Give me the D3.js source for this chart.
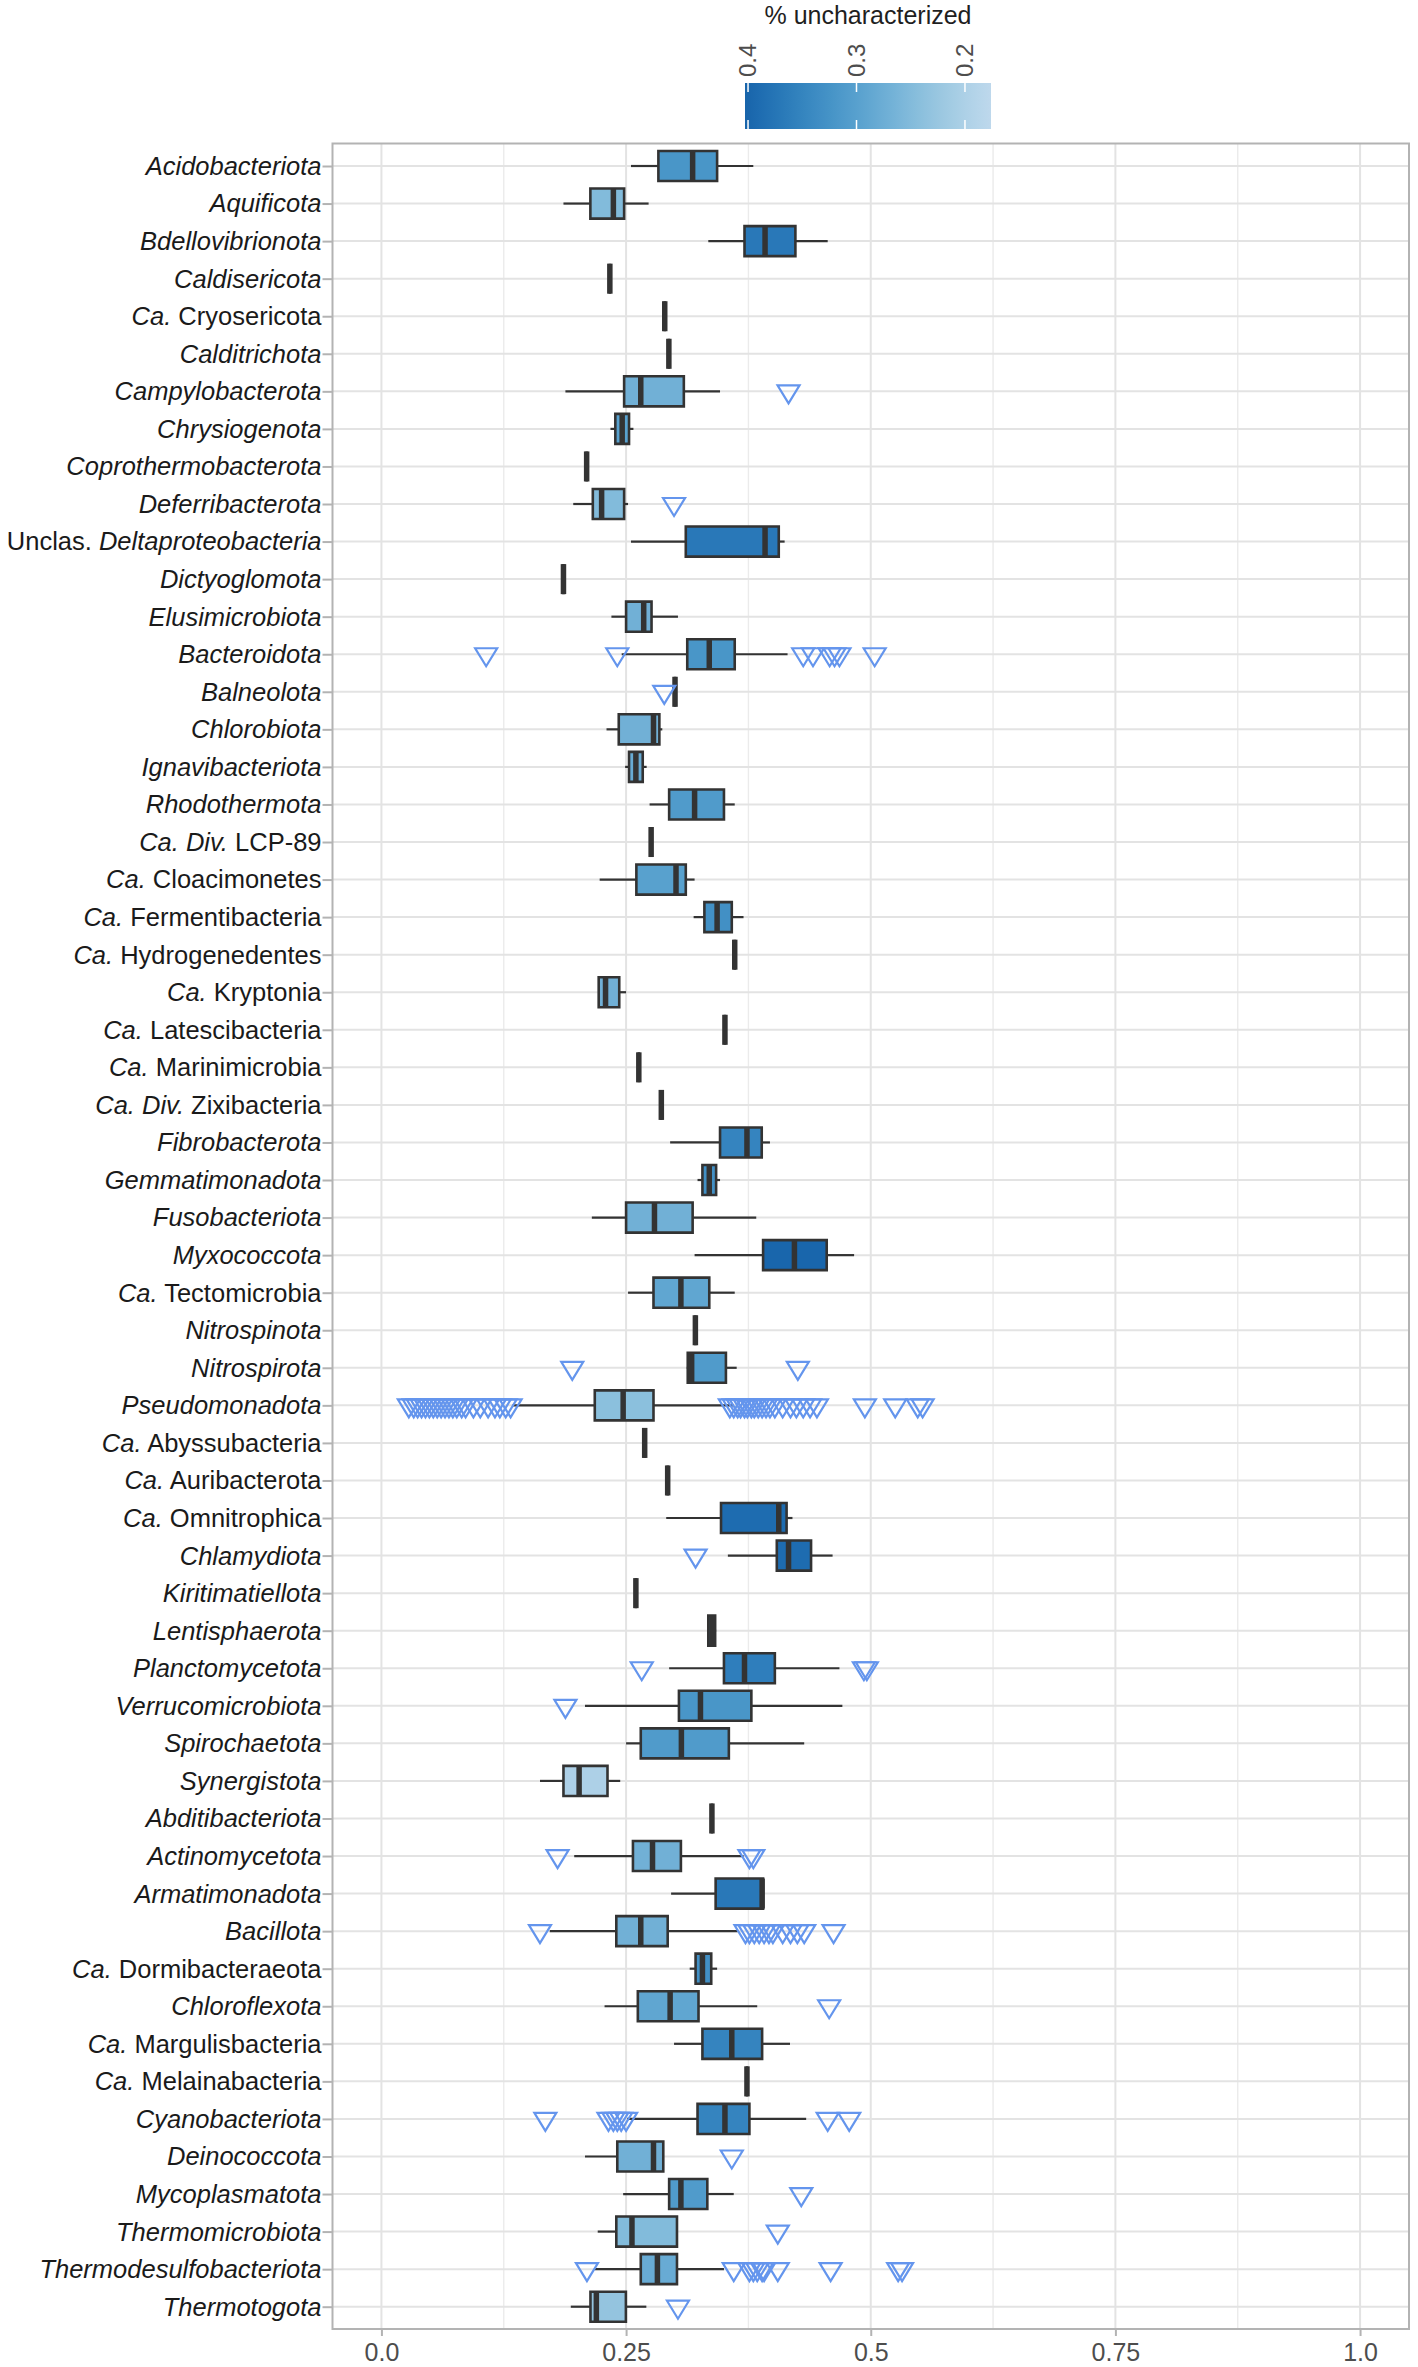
<!DOCTYPE html>
<html>
<head>
<meta charset="utf-8">
<script src="https://cdn.jsdelivr.net/npm/d3@7"></script>
<style>
html,body{margin:0;padding:0;background:#fff;}
svg{display:block;font-family:"Liberation Sans",Arial,Helvetica,sans-serif;}
</style>
</head>
<body>
<svg id="chart" width="1418" height="2367"></svg>
<script>
const categories = [
"Acidobacteriota","Aquificota","Bdellovibrionota","Caldisericota","Ca. Cryosericota","Calditrichota",
"Campylobacterota","Chrysiogenota","Coprothermobacterota","Deferribacterota","Unclas. Deltaproteobacteria",
"Dictyoglomota","Elusimicrobiota","Bacteroidota","Balneolota","Chlorobiota","Ignavibacteriota","Rhodothermota",
"Ca. Div. LCP-89","Ca. Cloacimonetes","Ca. Fermentibacteria","Ca. Hydrogenedentes","Ca. Kryptonia",
"Ca. Latescibacteria","Ca. Marinimicrobia","Ca. Div. Zixibacteria","Fibrobacterota","Gemmatimonadota",
"Fusobacteriota","Myxococcota","Ca. Tectomicrobia","Nitrospinota","Nitrospirota","Pseudomonadota",
"Ca. Abyssubacteria","Ca. Auribacterota","Ca. Omnitrophica","Chlamydiota","Kiritimatiellota","Lentisphaerota",
"Planctomycetota","Verrucomicrobiota","Spirochaetota","Synergistota","Abditibacteriota","Actinomycetota",
"Armatimonadota","Bacillota","Ca. Dormibacteraeota","Chloroflexota","Ca. Margulisbacteria","Ca. Melainabacteria",
"Cyanobacteriota","Deinococcota","Mycoplasmatota","Thermomicrobiota","Thermodesulfobacteriota","Thermotogota"
];

const whiskerLow = [0.255,0.186,0.334,0.2334,0.2895,0.2937,0.188,0.234,0.2097,0.196,0.255,0.186,0.235,0.2455,0.300,0.230,0.249,0.274,0.2756,0.223,0.319,0.361,0.222,0.351,0.263,0.286,0.295,0.323,0.215,0.320,0.252,0.3208,0.312,0.134,0.269,0.2925,0.291,0.354,0.260,0.333,0.294,0.208,0.250,0.162,0.3377,0.197,0.296,0.172,0.315,0.228,0.299,0.3735,0.251,0.208,0.247,0.221,0.218,0.1935];
const q1 = [0.283,0.2135,0.371,0.2334,0.2895,0.2937,0.248,0.239,0.2097,0.216,0.311,0.186,0.250,0.3125,0.300,0.2425,0.253,0.294,0.2756,0.2605,0.330,0.361,0.222,0.351,0.263,0.286,0.346,0.328,0.250,0.390,0.278,0.3208,0.313,0.218,0.269,0.2925,0.347,0.404,0.260,0.334,0.350,0.304,0.265,0.186,0.3377,0.257,0.3415,0.240,0.321,0.262,0.328,0.3735,0.323,0.241,0.294,0.240,0.265,0.2136];
const median = [0.318,0.237,0.392,0.2334,0.2895,0.2937,0.265,0.246,0.2097,0.225,0.392,0.186,0.268,0.335,0.300,0.278,0.260,0.320,0.2756,0.301,0.343,0.361,0.229,0.351,0.263,0.286,0.3735,0.335,0.279,0.422,0.306,0.3208,0.317,0.247,0.269,0.2925,0.406,0.416,0.260,0.3377,0.371,0.326,0.3065,0.202,0.3377,0.277,0.389,0.265,0.328,0.295,0.358,0.3735,0.351,0.278,0.306,0.256,0.282,0.2196];
const q3 = [0.343,0.248,0.423,0.2334,0.2895,0.2937,0.309,0.253,0.2097,0.248,0.406,0.186,0.276,0.361,0.300,0.284,0.267,0.350,0.2756,0.311,0.358,0.361,0.243,0.351,0.263,0.286,0.3886,0.342,0.318,0.455,0.335,0.3208,0.352,0.278,0.269,0.2925,0.414,0.439,0.260,0.341,0.402,0.378,0.355,0.231,0.3377,0.306,0.390,0.2925,0.337,0.324,0.389,0.3735,0.376,0.288,0.333,0.302,0.302,0.2498];
const whiskerHigh = [0.380,0.273,0.456,0.2334,0.2895,0.2937,0.346,0.2575,0.2097,0.252,0.412,0.186,0.303,0.415,0.300,0.287,0.271,0.361,0.2756,0.320,0.370,0.361,0.250,0.351,0.263,0.286,0.397,0.346,0.383,0.483,0.361,0.3208,0.363,0.360,0.269,0.2925,0.420,0.461,0.260,0.342,0.468,0.471,0.432,0.244,0.3377,0.370,0.390,0.364,0.343,0.384,0.4175,0.3735,0.434,0.288,0.360,0.302,0.350,0.2707];

// % uncharacterized (fill)
const uncharacterized = [0.32,0.25,0.37,0.30,0.30,0.30,0.27,0.30,0.30,0.25,0.37,0.30,0.27,0.32,0.30,0.27,0.28,0.31,0.30,0.30,0.33,0.30,0.27,0.30,0.30,0.30,0.35,0.33,0.27,0.40,0.29,0.30,0.31,0.24,0.30,0.30,0.39,0.39,0.30,0.33,0.36,0.32,0.31,0.20,0.30,0.27,0.37,0.27,0.33,0.29,0.35,0.30,0.35,0.27,0.31,0.25,0.28,0.23];

const outliers = [
[],[],[],[],[],[],
[0.416],[],[],[0.299],[],
[],[],[0.107,0.241,0.431,0.441,0.458,0.463,0.468,0.504],[0.289],[],[],[],
[],[],[],[],[],
[],[],[],[],[],
[],[],[],[],[0.195,0.4255],
[0.028,0.033,0.037,0.041,0.045,0.049,0.053,0.057,0.061,0.065,0.069,0.073,0.077,0.082,0.086,0.094,0.101,0.109,0.116,0.121,0.127,0.132,
 0.356,0.360,0.364,0.367,0.371,0.374,0.378,0.381,0.385,0.389,0.393,0.397,0.402,0.410,0.418,0.424,0.431,0.438,0.445,0.494,0.525,0.548,0.553],
[],[],[],[0.321],[],[],
[0.266,0.493,0.496],[0.188],[],[],[],[0.180,0.376,0.380],
[],[0.162,0.372,0.376,0.381,0.386,0.391,0.396,0.400,0.410,0.418,0.425,0.432,0.462],[],[0.4575],[],[],
[0.1675,0.232,0.237,0.241,0.245,0.250,0.456,0.478],[0.358],[0.429],[0.405],
[0.210,0.360,0.376,0.380,0.384,0.389,0.391,0.405,0.459,0.528,0.532],[0.303]
];

const xTicks = [0, 0.25, 0.5, 0.75, 1.0];
const xTickLabels = ["0.0","0.25","0.5","0.75","1.0"];
const xMinorTicks = [0.125, 0.375, 0.625, 0.875];
const legendTicks = [0.4, 0.3, 0.2];
const legendTickLabels = ["0.4","0.3","0.2"];
const legendTitle = "% uncharacterized";
const legendRange = [0.4028, 0.176];

const svg = d3.select("#chart");
const panel = {left: 332.5, right: 1409, top: 143.5, bottom: 2329};

const x = d3.scaleLinear().domain([-0.05, 1.05]).range([panel.left, panel.right]);
const y = d3.scalePoint().domain(categories).range([166, 2306.7]);
const step = y.step();
const boxH = step * 0.8;

const fillOf = v => d3.interpolateBlues(0.27 + (Math.max(0.176, Math.min(0.4028, v)) - 0.176) / (0.4028 - 0.176) * 0.53);

// panel grid
const g = svg.append("g");
g.selectAll(".minor").data(xMinorTicks).join("line")
  .attr("x1", d => x(d)).attr("x2", d => x(d))
  .attr("y1", panel.top).attr("y2", panel.bottom)
  .attr("stroke", "#ebebeb").attr("stroke-width", 1.4);
g.selectAll(".major").data(xTicks).join("line")
  .attr("x1", d => x(d)).attr("x2", d => x(d))
  .attr("y1", panel.top).attr("y2", panel.bottom)
  .attr("stroke", "#e3e3e3").attr("stroke-width", 2);
g.selectAll(".hgrid").data(categories).join("line")
  .attr("x1", panel.left).attr("x2", panel.right)
  .attr("y1", d => y(d)).attr("y2", d => y(d))
  .attr("stroke", "#e3e3e3").attr("stroke-width", 2);

// boxes
const rows = categories.map((c, i) => ({
  c, lo: whiskerLow[i], q1: q1[i], med: median[i], q3: q3[i], hi: whiskerHigh[i],
  fill: uncharacterized[i], out: outliers[i]
}));

const bg = svg.append("g");
rows.forEach(r => {
  const cy = y(r.c);
  const gg = bg.append("g");
  gg.append("line").attr("x1", x(r.lo)).attr("x2", x(r.q1)).attr("y1", cy).attr("y2", cy)
    .attr("stroke", "#333").attr("stroke-width", 2.2);
  gg.append("line").attr("x1", x(r.q3)).attr("x2", x(r.hi)).attr("y1", cy).attr("y2", cy)
    .attr("stroke", "#333").attr("stroke-width", 2.2);
  const x1 = x(r.q1), x2 = x(r.q3), y1 = cy - boxH / 2, y2 = cy + boxH / 2;
  gg.append("path").attr("d", `M${x1},${y1}H${x2}V${y2}H${x1}Z`)
    .attr("fill", fillOf(r.fill)).attr("stroke", "#333").attr("stroke-width", 2.6)
    .attr("stroke-linejoin", "miter");
  gg.append("line").attr("x1", x(r.med)).attr("x2", x(r.med)).attr("y1", y1).attr("y2", y2)
    .attr("stroke", "#333").attr("stroke-width", 5.5);
});

// outliers (open down-triangles)
const tri = (cx, cy) => {
  const w = 22, h = 18;
  return `M${cx - w/2},${cy - h/3}L${cx + w/2},${cy - h/3}L${cx},${cy + 2*h/3}Z`;
};
const og = svg.append("g");
rows.forEach(r => {
  og.selectAll(null).data(r.out).join("path")
    .attr("d", d => tri(x(d), y(r.c)))
    .attr("fill", "none").attr("stroke", "#6495ed").attr("stroke-width", 2.2)
    .attr("stroke-linejoin", "miter");
});

// panel border
svg.append("rect").attr("x", panel.left).attr("y", panel.top)
  .attr("width", panel.right - panel.left).attr("height", panel.bottom - panel.top)
  .attr("fill", "none").attr("stroke", "#b3b3b3").attr("stroke-width", 2);

// x axis
const xAxis = svg.append("g").attr("transform", `translate(0,${panel.bottom})`)
  .call(d3.axisBottom(x).tickValues(xTicks).tickFormat((d, i) => xTickLabels[i]).tickSize(7).tickPadding(7).tickSizeOuter(0));
xAxis.select(".domain").remove();
xAxis.selectAll(".tick line").attr("stroke", "#b3b3b3").attr("stroke-width", 2);
xAxis.selectAll(".tick text").attr("font-size", 25).attr("fill", "#4d4d4d")
  .attr("font-family", "'Liberation Sans', Arial, sans-serif");

// y axis
const yAxis = svg.append("g").attr("transform", `translate(${panel.left},0)`)
  .call(d3.axisLeft(y).tickSize(10).tickPadding(6).tickSizeOuter(0).tickFormat(""));
yAxis.select(".domain").remove();
yAxis.selectAll(".tick line").attr("stroke", "#b3b3b3").attr("stroke-width", 2);

function labelParts(name) {
  let m;
  if ((m = name.match(/^(Ca\. Div\.) (.*)$/))) return [[m[1], true], [" " + m[2], false]];
  if ((m = name.match(/^(Ca\.) (.*)$/))) return [[m[1], true], [" " + m[2], false]];
  if ((m = name.match(/^(Unclas\.) (.*)$/))) return [[m[1], false], [" " + m[2], true]];
  return [[name, true]];
}
const lg = svg.append("g");
categories.forEach(c => {
  const t = lg.append("text")
    .attr("x", panel.left - 11).attr("y", y(c)).attr("dy", "0.35em")
    .attr("text-anchor", "end").attr("font-size", 25.5).attr("fill", "#1a1a1a");
  labelParts(c).forEach(([s, it]) => {
    t.append("tspan").text(s).attr("font-style", it ? "italic" : "normal");
  });
});

// legend (colour bar)
const lx = d3.scaleLinear().domain(legendRange).range([745, 991]);
const defs = svg.append("defs");
const grad = defs.append("linearGradient").attr("id", "cbar").attr("x1", "0%").attr("x2", "100%");
d3.range(0, 1.0001, 0.05).forEach(t => {
  const v = legendRange[0] + (legendRange[1] - legendRange[0]) * t;
  grad.append("stop").attr("offset", (t * 100) + "%").attr("stop-color", fillOf(v));
});
const barTop = 83, barH = 46;
svg.append("rect").attr("x", lx(legendRange[0])).attr("y", barTop)
  .attr("width", lx(legendRange[1]) - lx(legendRange[0])).attr("height", barH)
  .attr("fill", "url(#cbar)");
legendTicks.forEach(v => {
  svg.append("line").attr("x1", lx(v)).attr("x2", lx(v)).attr("y1", barTop).attr("y2", barTop + 9)
    .attr("stroke", "#fff").attr("stroke-width", 1.5);
  svg.append("line").attr("x1", lx(v)).attr("x2", lx(v)).attr("y1", barTop + barH - 9).attr("y2", barTop + barH)
    .attr("stroke", "#fff").attr("stroke-width", 1.5);
});
legendTicks.forEach((v, i) => {
  svg.append("text").attr("transform", `translate(${lx(v) + 8},${barTop - 6}) rotate(-90)`)
    .attr("font-size", 24).attr("fill", "#4d4d4d").attr("text-anchor", "start")
    .text(legendTickLabels[i]);
});
svg.append("text").attr("x", (lx(legendRange[0]) + lx(legendRange[1])) / 2).attr("y", 24)
  .attr("text-anchor", "middle").attr("font-size", 25).attr("fill", "#1f1f1f")
  .text(legendTitle);
</script>
</body>
</html>
